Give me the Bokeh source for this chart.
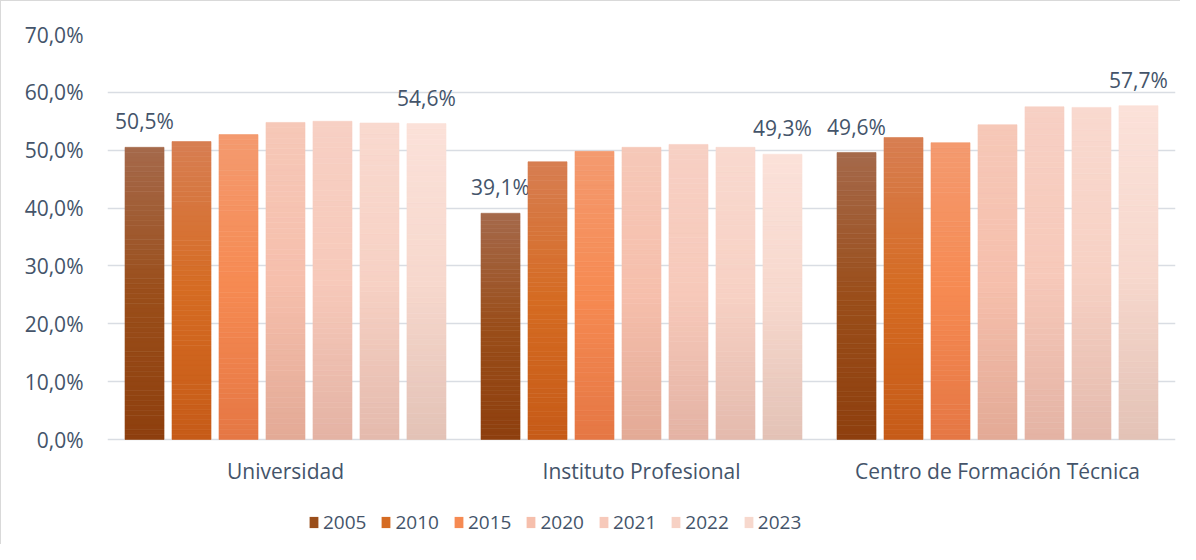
from bokeh.plotting import figure
from bokeh.models import (ColumnDataSource, FactorRange, FixedTicker, Legend, LegendItem, Range1d)
from bokeh.transform import dodge
from bokeh.embed import file_html
from bokeh.resources import INLINE

# ---------------- data ----------------
categories = ["Universidad", "Instituto Profesional", "Centro de Formación Técnica"]
years = ["2005", "2010", "2015", "2020", "2021", "2022", "2023"]
values = {
    "2005": [50.5, 39.1, 49.6],
    "2010": [51.5, 48.0, 52.2],
    "2015": [52.7, 49.8, 51.3],
    "2020": [54.8, 50.5, 54.4],
    "2021": [55.0, 51.0, 57.5],
    "2022": [54.7, 50.5, 57.4],
    "2023": [54.6, 49.3, 57.7],
}
y_ticks = [0, 10, 20, 30, 40, 50, 60, 70]
y_tick_labels = ["0,0%", "10,0%", "20,0%", "30,0%", "40,0%", "50,0%", "60,0%", "70,0%"]
labelled_years = ["2005", "2023"]

# gradient colours per year: top, middle, bottom
grad = {
    "2005": ("#A5694B", "#9A4E1A", "#8E3F0E"),
    "2010": ("#D77E52", "#D56B22", "#C65B18"),
    "2015": ("#F49A6F", "#F68A52", "#E57744"),
    "2020": ("#F6C8B8", "#F6BFAC", "#E3AA96"),
    "2021": ("#F7D0C4", "#F7C9BA", "#E4B3A4"),
    "2022": ("#F9D9CF", "#F7D1C4", "#E4BAAD"),
    "2023": ("#FBE1D9", "#F7D8CD", "#E3C2B6"),
}

TEXT = "#44546A"
FONT = "Open Sans"

# layout (pixels)
W, H = 1180, 544
TOP, BOTTOM, LEFT, RIGHT = 33, 0, 106, 6
VALUE_AREA_PX = 405          # pixels between 0% and 70%
frame_h = H - TOP - BOTTOM
y_max = 70
y_min = y_max - y_max * frame_h / VALUE_AREA_PX   # room under 0 for labels & legend


def hex2rgb(h):
    h = h.lstrip("#")
    return tuple(int(h[i:i + 2], 16) for i in (0, 2, 4))


def mix(a, b, t):
    ra, rb = hex2rgb(a), hex2rgb(b)
    return "#%02x%02x%02x" % tuple(round(ra[i] + (rb[i] - ra[i]) * t) for i in range(3))


def grad_color(year, t):
    # t = 0 bottom, 1 top
    top, mid, bot = grad[year]
    if t < 0.5:
        return mix(bot, mid, t / 0.5)
    return mix(mid, top, (t - 0.5) / 0.5)


p = figure(
    x_range=FactorRange(*categories, range_padding=0),
    y_range=Range1d(y_min, y_max),
    width=W, height=H,
    output_backend="svg", toolbar_location=None,
    min_border_left=LEFT, min_border_right=RIGHT, min_border_top=TOP, min_border_bottom=BOTTOM,
)
p.styles = {"border-left": "1px solid #D9D9D9", "border-top": "1px solid #D9D9D9"}
p.outline_line_color = None
p.background_fill_color = "white"
p.border_fill_color = "white"

step = 0.132
bar_w = 0.1096
N = 60

for j, yr in enumerate(years):
    off = (j - 3) * step
    xs, bs, ts, cs = [], [], [], []
    for c, v in zip(categories, values[yr]):
        for k in range(N):
            xs.append(c)
            bs.append(v * k / N)
            ts.append(v * (k + 1) / N)
            cs.append(grad_color(yr, (k + 0.5) / N))
    src = ColumnDataSource(dict(cat=xs, b=bs, t=ts, c=cs))
    p.vbar(x=dodge("cat", off, range=p.x_range), width=bar_w, bottom="b", top="t",
           fill_color="c", line_color="c", line_width=0.6, source=src)

    if yr in labelled_years:
        lsrc = ColumnDataSource(dict(
            cat=categories, v=values[yr],
            txt=[f"{v:.1f}".replace(".", ",") + "%" for v in values[yr]]))
        p.text(x=dodge("cat", off, range=p.x_range), y="v", text="txt", source=lsrc,
               text_align="center", text_baseline="alphabetic", y_offset=-26,
               text_font_size="21px", text_color=TEXT, text_font={"value": FONT})

# category labels under the zero line
csrc = ColumnDataSource(dict(cat=categories, y=[0] * len(categories)))
p.text(x="cat", y="y", text="cat", source=csrc, text_align="center",
       text_baseline="middle", y_offset=31, text_font_size="21px",
       text_color=TEXT, text_font={"value": FONT})

# legend (dummy zero-height bars carrying the mid colour)
items = []
for yr in years:
    r = p.vbar(x=[categories[0]], width=0.1, bottom=[0], top=[0],
               fill_color=grad[yr][1], line_color=None)
    items.append(LegendItem(label=yr, renderers=[r]))

legend = Legend(items=items, orientation="horizontal", location=(201, 10),
                glyph_width=11, glyph_height=14, label_standoff=4, spacing=14,
                padding=0, margin=0, label_height=20,
                label_text_font=FONT, label_text_font_size="19px", label_text_color=TEXT,
                border_line_color=None, background_fill_alpha=0)
p.add_layout(legend, "center")

# axes
p.xaxis.visible = False
p.yaxis.ticker = FixedTicker(ticks=y_ticks)
p.yaxis.major_label_overrides = {t: l for t, l in zip(y_ticks, y_tick_labels)}
ax = p.yaxis[0]
ax.axis_line_color = None
ax.major_tick_line_color = None
ax.minor_tick_line_color = None
ax.major_tick_out = 0
ax.major_tick_in = 0
ax.minor_tick_out = 0
ax.major_label_text_color = TEXT
ax.major_label_text_font = FONT
ax.major_label_text_font_size = "21px"
ax.major_label_standoff = 24

p.xgrid.grid_line_color = None
p.ygrid.ticker = FixedTicker(ticks=y_ticks)
p.ygrid.grid_line_color = "#D9DDE3"
p.ygrid.grid_line_width = 1.5

open("out.html", "w").write(file_html(p, INLINE))
